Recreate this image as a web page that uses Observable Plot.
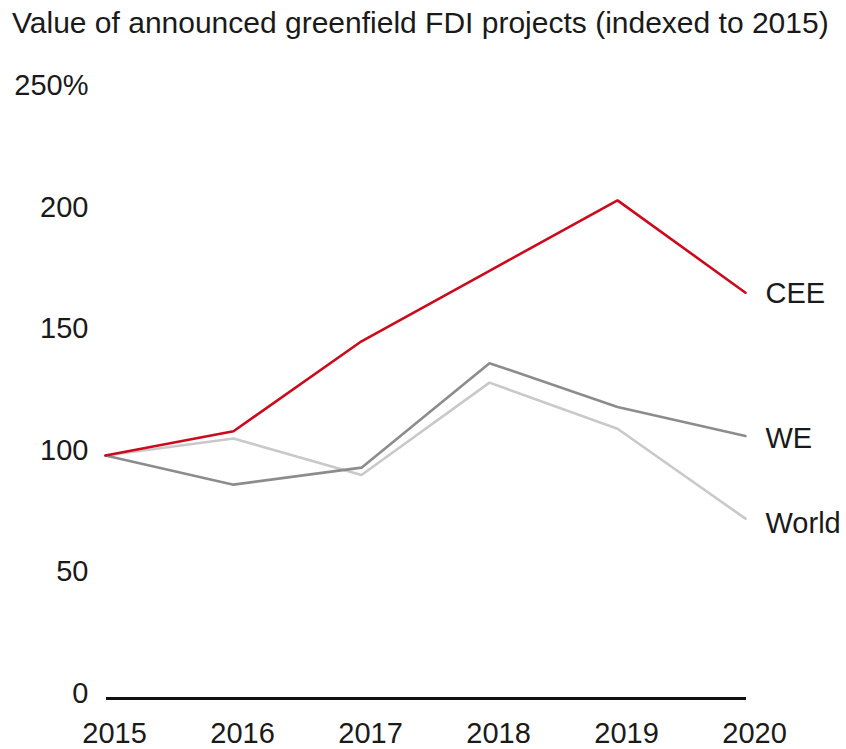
<!DOCTYPE html>
<html>
<head>
<meta charset="utf-8">
<script src="https://cdn.jsdelivr.net/npm/d3@7"></script>
<script src="https://cdn.jsdelivr.net/npm/@observablehq/plot@0.6"></script>
<style>
  html, body { margin: 0; padding: 0; background: #fff; }
  body { width: 846px; height: 749px; overflow: hidden; font-family: "Liberation Sans", Arial, sans-serif; color: #1a1a1a; }
  #title { height: 50px; box-sizing: border-box; padding: 8px 0 0 12px; font-size: 30px; line-height: 30px; white-space: nowrap; }
</style>
</head>
<body>
<div id="title">Value of announced greenfield FDI projects (indexed to 2015)</div>
<div id="chart"></div>
<script>
const years = [2015, 2016, 2017, 2018, 2019, 2020];
const seriesNames = ["World", "WE", "CEE"];
const cee = [100, 110, 147, 176, 205, 167];
const we = [100, 88, 95, 138, 120, 108];
const world = [100, 107, 92, 130, 111, 74];
const yTicks = [0, 50, 100, 150, 200, 250];
const colors = { CEE: "#cc0a1e", WE: "#8c8c8c", World: "#c9c9c9" };
const labelDy = { CEE: 1, WE: 3, World: 5 };

const valuesBySeries = { CEE: cee, WE: we, World: world };
const data = seriesNames.flatMap(name =>
  years.map((year, i) => ({ series: name, year, value: valuesBySeries[name][i] }))
);
const lastPoints = seriesNames.map(name => ({
  series: name,
  year: years[years.length - 1],
  value: valuesBySeries[name][years.length - 1]
}));

const chart = Plot.plot({
  width: 846,
  height: 699,
  marginTop: 40.5,
  marginBottom: 51,
  marginLeft: 105,
  marginRight: 101,
  style: { fontFamily: "'Liberation Sans', Arial, sans-serif", fontSize: "29px", color: "#1a1a1a", background: "#fff", overflow: "visible" },
  x: { domain: [2015, 2020], label: null },
  y: { domain: [0, 250], label: null },
  marks: [
    Plot.axisX({ ticks: years, tickFormat: d => String(d), tickSize: 0, tickPadding: 24, dx: 9, fontSize: 29, label: null }),
    Plot.axisY({ ticks: yTicks, tickFormat: d => d === 250 ? "250%" : String(d), tickSize: 0, tickPadding: 17, dy: -5, fontSize: 29, label: null }),
    Plot.ruleY([0], { x1: 2015, x2: 2020, stroke: "#111", strokeWidth: 3, dx: 1 }),
    Plot.line(data, { x: "year", y: "value", z: "series", stroke: d => colors[d.series], strokeWidth: 2.6, strokeLinejoin: "miter" }),
    ...seriesNames.map(name =>
      Plot.text(lastPoints.filter(d => d.series === name), {
        x: "year", y: "value", text: "series", textAnchor: "start",
        dx: 20, dy: labelDy[name], fontSize: 29, fill: "#1a1a1a"
      })
    ),
  ]
});
document.getElementById("chart").appendChild(chart);
</script>
</body>
</html>
